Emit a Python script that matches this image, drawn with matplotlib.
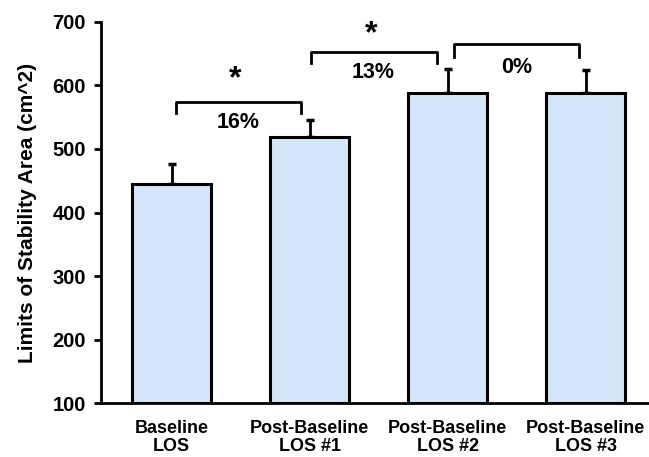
import matplotlib
matplotlib.use("Agg")
import matplotlib.pyplot as plt
import numpy as np

categories = ["Baseline\nLOS", "Post-Baseline\nLOS #1", "Post-Baseline\nLOS #2", "Post-Baseline\nLOS #3"]
values = [445, 519, 588, 588]
errors = [31, 26, 38, 36]
yticks = [100, 200, 300, 400, 500, 600, 700]

# brackets: (x_start, x_end, y, leg_drop, pct_label, pct_y, star, star_y)
brackets = [
    (0.03, 0.935, 574, 17, "16%", 541, True, 610),
    (1.007, 1.92, 653, 18, "13%", 620, True, 681),
    (2.05, 2.95, 665, 20, "0%", 629, False, None),
]

plt.rcParams['font.family'] = ['Liberation Sans', 'DejaVu Sans']
fig = plt.figure(figsize=(6.49, 4.57), dpi=100)
ax = fig.add_axes([0.156, 0.118, 0.844, 0.834])

x = np.arange(len(categories))
ax.bar(x, [v - 100 for v in values], bottom=100, width=0.57, color="#D6E6FA",
       edgecolor="black", linewidth=2.2, zorder=2)
ax.errorbar(x, values, yerr=[np.zeros(len(values)), errors], fmt="none",
            ecolor="black", elinewidth=2, capsize=3, capthick=2.5, zorder=1)

for xs, xe, y, drop, lab, ly, star, sy in brackets:
    ax.plot([xs, xs, xe, xe], [y - drop, y, y, y - drop], color="black", lw=2,
            solid_joinstyle="round", clip_on=False)
    xm = (xs + xe) / 2
    ax.text(xm, ly, lab, ha="center", va="center", fontsize=15.5, fontweight="bold")
    if star:
        ax.text(xm - 0.02, sy, "*", ha="center", va="center", fontsize=23, fontweight="bold")

ax.set_xlim(-0.51, 3.46)
ax.set_ylim(100, 700)
ax.set_yticks(yticks)
ax.set_xticks(x)
ax.set_xticklabels(categories, fontsize=13, fontweight="bold", linespacing=1.1)
ax.tick_params(axis="y", labelsize=14.5, width=2, length=5, pad=6)
ax.tick_params(axis="x", length=0, pad=12)
for lbl in ax.get_yticklabels():
    lbl.set_fontweight("bold")
ax.spines["top"].set_visible(False)
ax.spines["right"].set_visible(False)
ax.spines["left"].set_linewidth(2)
ax.spines["bottom"].set_linewidth(2)
ax.set_ylabel("Limits of Stability Area (cm^2)", fontsize=15, fontweight="bold", labelpad=11)

fig.savefig("out.png", dpi=100)
